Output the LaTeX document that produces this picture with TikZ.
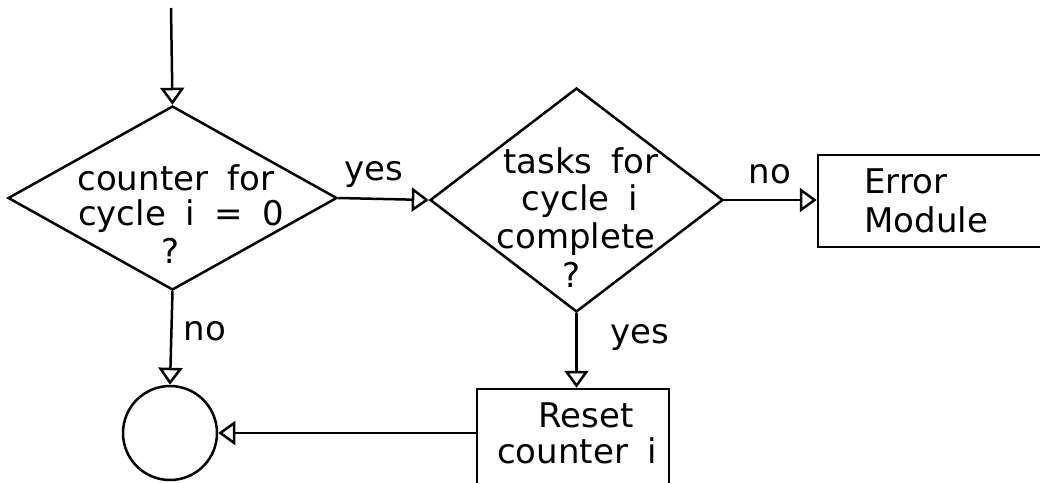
\documentclass[tikz,border=0pt]{standalone}
\usepackage{fontspec}
\setmainfont{DejaVu Sans}[WordSpace=1.8]
\usetikzlibrary{shapes.geometric,arrows.meta}
\begin{document}
\begin{tikzpicture}[x=1pt,y=-1pt,line width=2.5pt,
  txt/.style={font=\fontsize{34}{40}\selectfont, inner sep=0pt, anchor=base},
  txtw/.style={txt, anchor=base west},
  decision/.style={draw, diamond, inner sep=0pt},
  boxnode/.style={draw, rectangle, inner sep=0pt},
  flow/.style={-{Triangle[open,length=17pt,width=24pt]}}]
\useasboundingbox (0,0) rectangle (1040,482);
\clip (0,0) rectangle (1040,482);
% shapes
\coordinate (start) at (171,8);
\node[decision, minimum width=329pt, minimum height=184pt] (d1) at (172.5,198) {};
\node[decision, minimum width=293pt, minimum height=224pt] (d2) at (576.5,200) {};
\node[boxnode, minimum width=230pt, minimum height=92pt] (err) at (933,201) {};
\node[boxnode, minimum width=192pt, minimum height=120pt] (rst) at (573,449) {};
\node[draw, circle, inner sep=0pt, minimum size=94pt] (circ) at (170,433) {};
% texts in shapes
\node[txt] (d1a) at (176,190) {counter for};
\node[txt] (d1b) at (181,225) {cycle i = 0};
\node[txt] (d1c) at (171,263) {?};
\node[txt] (d2a) at (581,173) {tasks for};
\node[txt] (d2b) at (580,210) {cycle i};
\node[txt] (d2c) at (576,248) {complete};
\node[txt] (d2d) at (572,287) {?};
\node[txtw] (erra) at (863,193) {Error};
\node[txtw] (errb) at (863,232) {Module};
\node[txt] (rsta) at (586,427) {Reset};
\node[txt] (rstb) at (577,463) {counter i};
% connectors
\draw[flow] (start) -- (d1.north);
\draw[flow] (d1.east) -- (d2.west);
\draw[flow] (d2.east) -- (d2.east -| err.west);
\draw[flow] (d1.south) -- (circ.north);
\draw[flow] (d2.south) -- (d2.south |- rst.north);
\draw[flow] (circ.east -| rst.west) -- (circ.east);
% connector labels
\node[txt] (yes1) at (373.5,180) {yes};
\node[txt] (no1) at (770,183) {no};
\node[txt] (no2) at (205,340) {no};
\node[txt] (yes2) at (640,343) {yes};
\end{tikzpicture}
\end{document}
